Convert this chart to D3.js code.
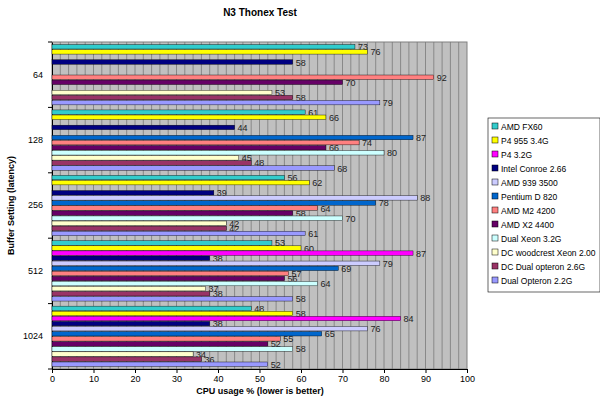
<!DOCTYPE html>
<html><head><meta charset="utf-8">
<script src="https://cdn.jsdelivr.net/npm/d3@7"></script>
<style>body{margin:0;background:#fff;font-family:Arial,"Liberation Sans",sans-serif}</style>
</head><body><svg id="c" width="600" height="409"></svg>
<script>
var buffers = ["64", "128", "256", "512", "1024"];
var series = ["AMD FX60", "P4 955 3.4G", "P4 3.2G", "Intel Conroe 2.66", "AMD 939 3500", "Pentium D 820",
  "AMD M2 4200", "AMD X2 4400", "Dual Xeon 3.2G", "DC woodcrest Xeon 2.00", "DC Dual opteron 2.6G", "Dual Opteron 2.2G"];
var colors = ["#33cccc", "#ffff00", "#ff00ff", "#000080", "#ccccff", "#0066cc",
  "#ff8080", "#660066", "#ccffff", "#ffffcc", "#993366", "#9999ff"];
// values per buffer, in series order (null = not tested)
var v64   = [73, 76, null, 58, null, null, 92, 70, null, 53, 58, 79];
var v128  = [61, 66, null, 44, null, 87, 74, 66, 80, 45, 48, 68];
var v256  = [56, 62, null, 39, 88, 78, 64, 58, 70, 42, 42, 61];
var v512  = [53, 60, 87, 38, 79, 69, 57, 56, 64, 37, 38, 58];
var v1024 = [48, 58, 84, 38, 76, 65, 55, 52, 58, 34, 36, 52];
var values = [v64, v128, v256, v512, v1024];
var xTicks = [0, 10, 20, 30, 40, 50, 60, 70, 80, 90, 100];

var svg = d3.select("#c");
var L = 52, R = 467, T = 42, B = 369;
var x = d3.scaleLinear().domain([0, 100]).range([L, R]);
var y0 = d3.scaleBand().domain(buffers).range([T, B]);
var y1 = d3.scaleBand().domain(d3.range(series.length)).range([0, y0.bandwidth()]).paddingOuter(0.5).paddingInner(0.12);

svg.append("rect").attr("x", L).attr("y", T).attr("width", R - L).attr("height", B - T)
  .attr("fill", "#c0c0c0").attr("stroke", "#808080");
svg.append("g").selectAll("line").data(d3.range(2, 100, 2)).enter().append("line")
  .attr("x1", d => x(d)).attr("x2", d => x(d)).attr("y1", T).attr("y2", B)
  .attr("stroke", "#7a7a7a").attr("stroke-width", 0.8);

var xa = svg.append("g").attr("transform", "translate(0," + B + ")")
  .call(d3.axisBottom(x).tickValues(xTicks).tickSize(4).tickSizeOuter(0));
xa.selectAll("text").attr("font-size", 9).attr("font-family", "Arial");
var ya = svg.append("g").attr("transform", "translate(" + L + ",0)")
  .call(d3.axisLeft(y0).tickSize(0));
ya.selectAll("text").attr("font-size", 9).attr("font-family", "Arial").attr("dx", -6);
ya.selectAll("line.sep").data(d3.range(buffers.length + 1)).enter().append("line")
  .attr("x1", -4).attr("x2", 0).attr("y1", i => T + i * y0.step()).attr("y2", i => T + i * y0.step()).attr("stroke", "#000");
svg.selectAll(".domain").attr("stroke", "#000");

var g = svg.append("g").selectAll("g").data(values).enter().append("g")
  .attr("transform", (d, i) => "translate(0," + y0(buffers[i]) + ")");
var bars = g.selectAll("g").data(d => d.map((v, i) => ({v: v, i: i})).filter(d => d.v != null)).enter().append("g");
bars.append("rect").attr("x", L).attr("y", d => y1(d.i))
  .attr("width", d => x(d.v) - L).attr("height", y1.bandwidth())
  .attr("fill", d => colors[d.i]).attr("stroke", "#000").attr("stroke-width", 0.4);
bars.append("text").attr("x", d => x(d.v) + 3).attr("y", d => y1(d.i) + y1.bandwidth() / 2 + 3.5)
  .attr("font-size", 9).attr("fill", "#222").text(d => d.v);

svg.append("text").attr("x", 260).attr("y", 16).attr("text-anchor", "middle")
  .attr("font-size", 10).attr("font-weight", "bold").text("N3 Thonex Test");
svg.append("text").attr("x", 260).attr("y", 394).attr("text-anchor", "middle")
  .attr("font-size", 9).attr("font-weight", "bold").text("CPU usage % (lower is better)");
svg.append("text").attr("transform", "translate(14," + ((T + B) / 2) + ") rotate(-90)").attr("text-anchor", "middle")
  .attr("font-size", 9).attr("font-weight", "bold").text("Buffer Setting (latency)");

var lg = svg.append("g").attr("transform", "translate(488,118)");
lg.append("rect").attr("width", 112).attr("height", 174).attr("fill", "#fff").attr("stroke", "#000").attr("stroke-width", 0.6);
var li = lg.selectAll("g").data(series).enter().append("g")
  .attr("transform", (d, i) => "translate(4," + (9 + i * 14) + ")");
li.append("rect").attr("x", 0).attr("y", -4).attr("width", 6).attr("height", 6)
  .attr("fill", (d, i) => colors[i]).attr("stroke", "#000").attr("stroke-width", 0.5);
li.append("text").attr("x", 9).attr("y", 3).attr("font-size", 8.5).text(d => d);
</script></body></html>
